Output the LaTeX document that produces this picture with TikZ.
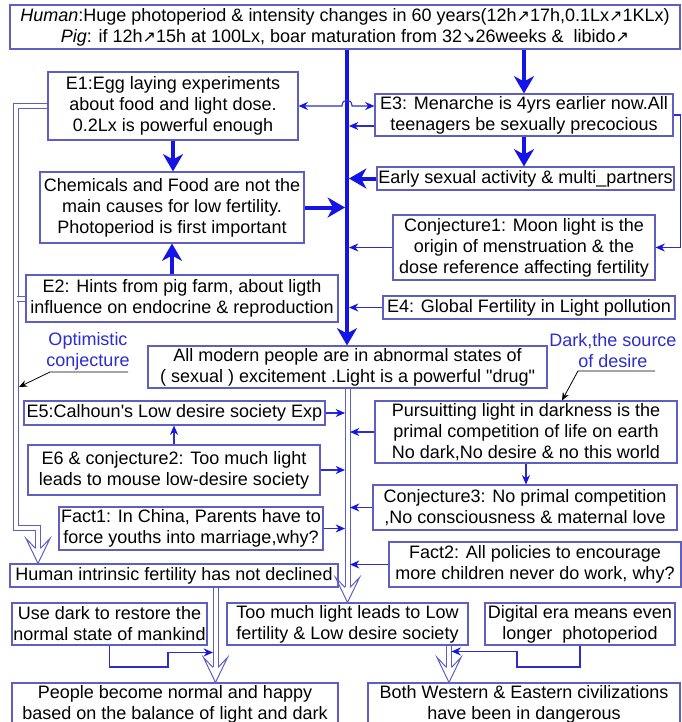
\documentclass[tikz,border=0pt]{standalone}
\usepackage{fontspec}
\setmainfont{Liberation Sans}[Ligatures=TeXOff]
\newfontfamily\arrf{DejaVu Sans}
\usetikzlibrary{arrows.meta,calc}
\definecolor{bcol}{RGB}{95,95,195}
\definecolor{acol}{RGB}{20,20,230}
\definecolor{lcol}{RGB}{45,45,205}
\newcommand\uarr{{\arrf\fontsize{12pt}{12pt}\selectfont ↗}}
\newcommand\darr{{\arrf\fontsize{12pt}{12pt}\selectfont ↘}}
\newcommand\hollowat[1]{\draw[hol] ($(#1)+(-2.5,-15)$) -- ($(#1)+(-12,-25)$) -- (#1) -- ($(#1)+(12,-25)$) -- ($(#1)+(2.5,-15)$);}
\begin{document}
\begin{tikzpicture}[x=0.75pt,y=-0.75pt,
  bx/.style={draw=bcol, line width=0.8pt, align=center, inner sep=0pt, text=black,
    font=\fontsize{13.5pt}{15.75pt}\selectfont},
  sz/.style 2 args={minimum width=#1*0.75pt, minimum height=#2*0.75pt},
  lab/.style={align=center, inner sep=0pt, text=lcol, font=\fontsize{13.5pt}{15.75pt}\selectfont},
  thk/.style={draw=acol, line width=3pt, -{Stealth[length=13pt,width=15pt,inset=4pt]}},
  ta/.style={draw=lcol, line width=0.8pt, -{Stealth[length=7pt,width=6pt,color=acol]}},
  tab/.style={draw=lcol, line width=0.8pt, {Stealth[length=7pt,width=6pt,color=acol]}-{Stealth[length=7pt,width=6pt,color=acol]}},
  blk/.style={draw=black, line width=0.6pt, -{Stealth[length=6pt,width=5pt]}},
  dbl/.style={draw=bcol, line width=0.75pt, double=white, double distance=3pt},
  hol/.style={draw=bcol, line width=0.75pt, line join=miter}]
\useasboundingbox (0,0) rectangle (682,722);
\fill[white] (0,0) rectangle (682,722);
\clip (0,0) rectangle (682,722);

% boxes
\node[bx, sz={670}{44}] (top) at (345,27) {\textit{Human}:Huge photoperiod \& intensity changes in 60 years(12h\uarr17h,0.1Lx\uarr1KLx)\\\textit{Pig}: if 12h\uarr15h at 100Lx, boar maturation from 32\darr26weeks \&~ libido\uarr};
\node[bx, sz={250}{68}] (E1) at (173,106) {E1:Egg laying experiments\\about food and light dose.\\0.2Lx is powerful enough};
\node[bx, sz={298}{42}] (E3) at (524,115) {E3: Menarche is 4yrs earlier now.All\\ teenagers be sexually precocious};
\node[bx, sz={297}{23}] (Early) at (525.5,178.5) {Early sexual activity \& multi\_partners};
\node[bx, sz={264}{71}] (Chem) at (172,207.5) {Chemicals and Food are not the\\main causes for low fertility.\\Photoperiod is first important};
\node[bx, sz={262}{65}] (Conj1) at (524,247.5) {Conjecture1: Moon light is the\\origin of menstruation \& the\\dose reference affecting fertility};
\node[bx, sz={312}{47}] (E2) at (182,298.5) {E2: Hints from pig farm, about ligth\\influence on endocrine \& reproduction};
\node[bx, sz={292}{23}] (E4) at (529,307.5) {E4: Global Fertility in Light pollution};
\node[bx, sz={399}{42}] (All) at (347.5,367) {All modern people are in abnormal states of\\( sexual ) excitement .Light is a powerful "drug"};
\node[bx, sz={301}{24}] (E5) at (174.5,413) {E5:Calhoun's Low desire society Exp};
\node[bx, sz={302}{62}] (Pur) at (526,432) {Pursuitting light in darkness is the\\primal competition of life on earth\\No dark,No desire \& no this world};
\node[bx, sz={292}{50}] (E6) at (174,470) {E6 \& conjecture2: Too much light\\leads to mouse low-desire society};
\node[bx, sz={304}{45}] (Conj3) at (525,507.5) {Conjecture3: No primal competition\\,No consciousness \& maternal love};
\node[bx, sz={264}{43}] (Fact1) at (191,528.5) {Fact1: In China, Parents have to\\force youths into marriage,why?};
\node[bx, sz={292}{45}] (Fact2) at (535,564.5) {Fact2: All policies to encourage\\more children never do work, why?};
\node[bx, sz={328}{23}] (Human) at (174,575.5) {Human intrinsic fertility has not declined};
\node[bx, sz={195}{42}] (Use) at (109.5,624) {Use dark to restore the\\normal state of mankind};
\node[bx, sz={241}{42}] (Too) at (347.5,624) {Too much light leads to Low\\fertility \& Low desire society};
\node[bx, sz={190}{42}] (Dig) at (580,624) {Digital era means even\\longer~ photoperiod};
\node[bx, sz={326}{42}] (Peo) at (175,704) {People become normal and happy\\based on the balance of light and dark};
\node[bx, sz={312}{42}] (Both) at (524,704) {Both Western \& Eastern civilizations\\have been in dangerous};

% labels
\node[lab] (opt) at (88,351) {Optimistic\\conjecture};
\node[lab] (dark) at (613,351) {Dark,the source\\of desire};

% helper coordinates
\coordinate (sp) at (347,0);
\coordinate (spR) at (349,0);
\coordinate (spL) at (345,0);
\coordinate (mL) at (345,0);
\coordinate (mR) at (350,0);
\coordinate (hL) at (Human.north -| 38,0);
\coordinate (hM) at (Too.north);
\coordinate (hH) at (Peo.north -| 215.5,0);
\coordinate (hT) at (Both.north -| 449,0);
\coordinate (optA) at (128,372);
\coordinate (optB) at (50,372);
\coordinate (optC) at (19,387);
\coordinate (dA) at (655,371);
\coordinate (dB) at (578,371);

% thick spine and arrows
\draw[thk] (top.south -| sp) -- (All.north -| sp);
\draw[thk] (top.south -| E3.north) -- (E3.north);
\draw[thk] (E3.south) -- (E3.south |- Early.north);
\draw[thk] (Early.west) -- (Early.west -| spR);
\draw[thk] (Chem.east) -- (Chem.east -| spL);
\draw[thk] (E1.south) -- (E1.south |- Chem.north);
\draw[thk] (Chem.south |- E2.north) -- (Chem.south);

% thin arrows upper part
\draw[tab] (E3.west |- E1.east) -- (352,106) .. controls (352,98) and (342,98) .. (342,106) -- (E1.east);
\draw[ta] (E3.west |- 0,126) -- (spR |- 0,126);
\draw[ta] (E3.east) -- ++(7,0) |- (Conj1.east);
\draw[ta] (Conj1.west) -- (Conj1.west -| spR);
\draw[ta] (E4.west) -- (E4.west -| spR);

% left double line
\draw[dbl] (E1.west) -| (15.5,528) -| ($(hL)+(0,-15)$);
\draw[dbl] (E2.west) -- (E2.west -| 17.3,0);
\fill[white] (14.3,296.5) rectangle (18.8,300.5);
\hollowat{hL}

% middle double line
\draw[dbl] (All.south) -- ($(hM)+(0,-15)$);
\hollowat{hM}
\draw[ta] (E5.east) -- (E5.east -| mL);
\draw[ta] (E6.east) -- (E6.east -| mL);
\draw[ta] (Fact1.east) -- (Fact1.east -| mL);
\draw[ta] (Pur.west) -- (Pur.west -| mR);
\draw[ta] (Conj3.west) -- (Conj3.west -| mR);
\draw[ta] (Fact2.west) -- (Fact2.west -| mR);
\draw[ta] (E6.north) -- (E6.north |- E5.south);
\draw[ta] (Pur.south) -- (Pur.south |- Conj3.north);

% bottom double lines
\draw[dbl] (Human.south -| hH) -- ($(hH)+(0,-15)$);
\hollowat{hH}
\draw[dbl] (Too.south -| hT) -- ($(hT)+(0,-15)$);
\hollowat{hT}
\draw[ta] (Use.south) |- (168,667) |- ($(hH)+(-2.5,-30)$);
\draw[ta] (Dig.south) |- (517,667) |- ($(hT)+(2.5,-31)$);

% label arrows
\draw[blk] (optA) -- (optB) -- (optC);
\draw[blk] (dA) -- (dB) -- (Pur.north -| 562,0);
\end{tikzpicture}
\end{document}
